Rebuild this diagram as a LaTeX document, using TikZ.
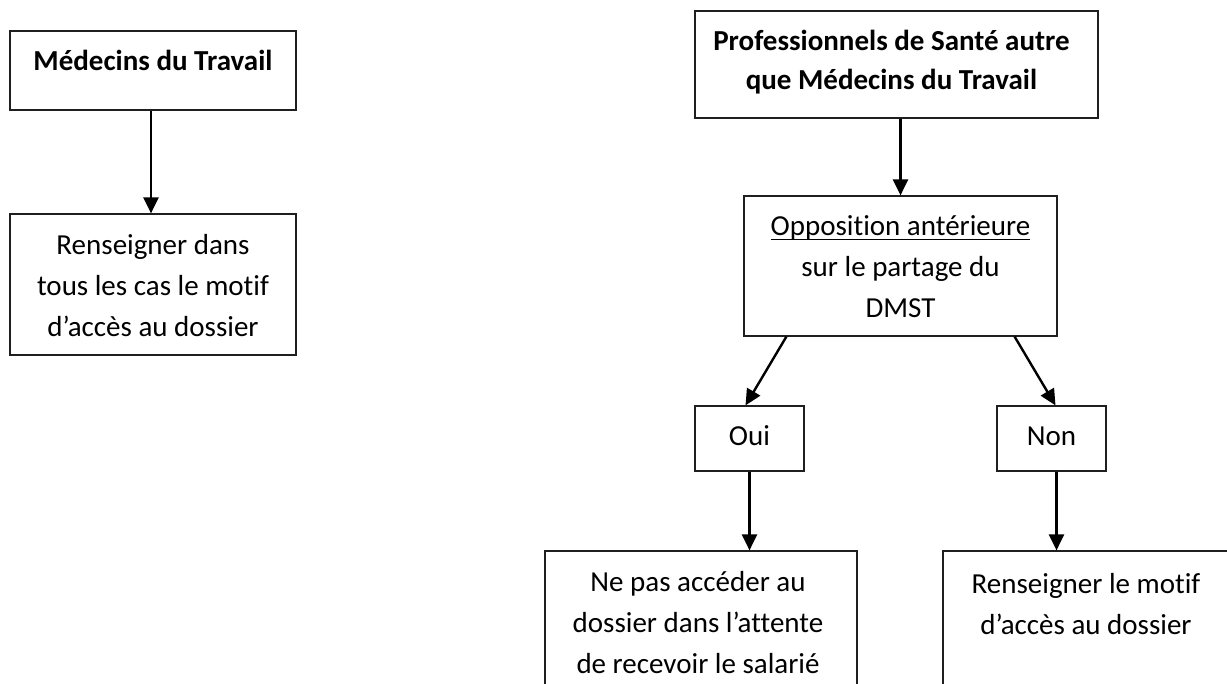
\documentclass[tikz,border=0pt]{standalone}
\usepackage{fontspec}
\setmainfont{Carlito}[Ligatures=CommonOff]
\usetikzlibrary{calc,fit,arrows.meta}

\newcommand\lignehaute{\rule{0pt}{28pt}}
\newcommand\souligne[1]{\setbox0\hbox{#1}\rlap{\rule[-4.5pt]{\wd0}{1.4pt}}\box0}

\tikzset{
  boite/.style={draw=black!88, line width=1.2pt, inner sep=0pt},
  txt/.style={anchor=north, align=center, inner sep=0pt, font=\fontsize{29}{41}\selectfont},
  fleche/.style={line width=2.4pt, -{Triangle[length=16pt,width=15pt]}}
}

\begin{document}
\begin{tikzpicture}[x=1pt,y=-1pt]
\useasboundingbox (0,0) rectangle (1227,684);
\clip (0,0) rectangle (1227,684);
\node[boite, fit={(10,31) (296,110)}] (medt) {};
\node[boite, fit={(10,214) (296,355)}] (rensA) {};
\node[boite, fit={(695,11) (1098,118)}] (prof) {};
\node[boite, fit={(744,196) (1057,336)}] (opp) {};
\node[boite, fit={(695,406) (804,471)}] (oui) {};
\node[boite, fit={(997,406) (1106,471)}] (non) {};
\node[boite, fit={(545,551) (857,720)}] (nepas) {};
\node[boite, fit={(943,551) (1229,720)}] (rensB) {};

\node[txt] (medtT) at ($(medt.north)+(0,12)$) {\lignehaute\textbf{Médecins du Travail}};
\node[txt] (rensAT) at ($(rensA.north)+(0,13)$) {\lignehaute Renseigner dans\\tous les cas le motif\\d’accès au dossier};
\node[txt, font=\bfseries\fontsize{29}{38.5}\selectfont] (profT) at ($(prof.north)+(-5,12)$) {\lignehaute Professionnels de Santé autre\\que Médecins du Travail};
\node[txt] (oppT) at ($(opp.north)+(0,12)$) {\lignehaute\souligne{Opposition antérieure}\\sur le partage du\\DMST};
\node[txt] (ouiT) at ($(oui.north)+(0,12)$) {\lignehaute Oui};
\node[txt] (nonT) at ($(non.north)+(0,12)$) {\lignehaute Non};
\node[txt] (nepasT) at ($(nepas.north)+(-3,13)$) {\lignehaute Ne pas accéder au\\dossier dans l’attente\\de recevoir le salarié};
\node[txt] (rensBT) at ($(rensB.north)+(0,15)$) {\lignehaute Renseigner le motif\\d’accès au dossier};

\draw[fleche] ([xshift=-2pt]medt.south) -- ([xshift=-2pt]rensA.north);
\draw[fleche] (opp.north |- prof.south) -- (opp.north);
\draw[fleche] ($(opp.south west)+(43,0)$) -- ([xshift=-4pt]oui.north);
\draw[fleche] ($(opp.south east)+(-43,0)$) -- ([xshift=4pt]non.north);
\draw[fleche] (oui.south) -- (oui.south |- nepas.north);
\draw[fleche] ([xshift=5pt]non.south) -- ([xshift=5pt]non.south |- rensB.north);
\end{tikzpicture}
\end{document}
